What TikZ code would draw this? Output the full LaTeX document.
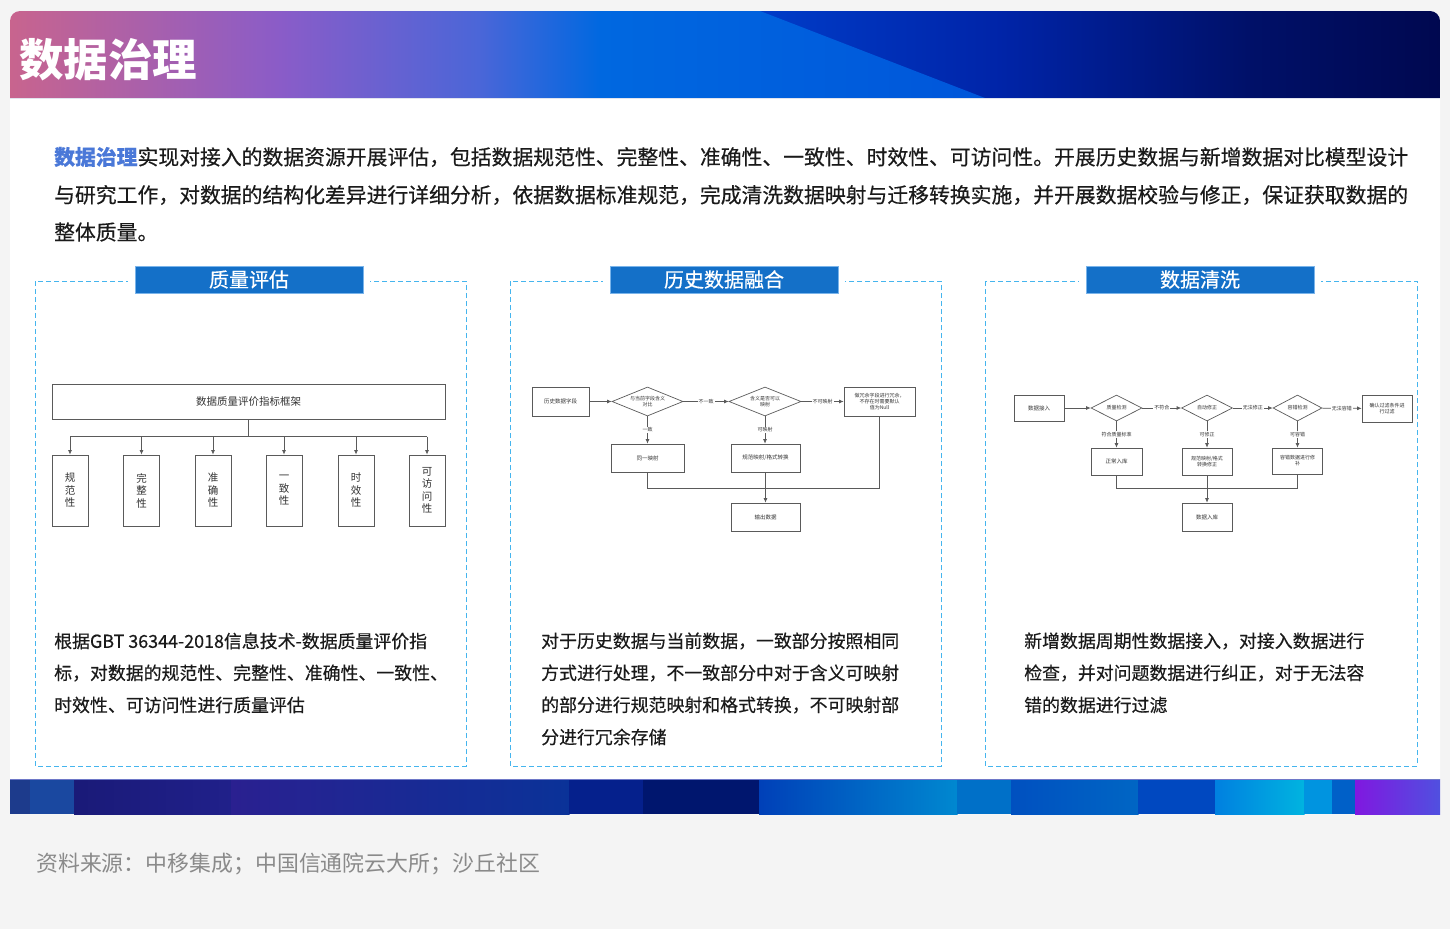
\documentclass[tikz,border=0pt]{standalone}
\usepackage{fontspec}
\setmainfont{Noto Sans CJK SC}
\newfontfamily\medfont[FakeBold=0.4]{Noto Sans CJK SC}
\usetikzlibrary{shapes.geometric,arrows.meta}
\definecolor{bggray}{HTML}{F4F4F4}
\definecolor{boxline}{HTML}{5A5A5A}
\definecolor{fctext}{HTML}{333333}
\definecolor{dashblue}{HTML}{45B5EE}
\definecolor{tabblue}{HTML}{1470C8}
\definecolor{tabedge}{HTML}{7AB4EA}
\definecolor{hiblue}{HTML}{4A78D8}
\definecolor{bodytext}{HTML}{1A1A1A}
\definecolor{srcgray}{HTML}{8A8A8A}
\tikzset{
  fbox/.style={draw=boxline, line width=0.7pt, fill=white, inner sep=1pt, align=center,
    font=\fontsize{5.5}{6.5}\selectfont, text=fctext},
  vbox/.style={draw=boxline, line width=0.8pt, fill=white, inner sep=0pt, align=center,
    minimum width=36pt, minimum height=71pt, font=\fontsize{10.5}{12.5}\selectfont, text=fctext},
  fdia/.style={diamond, draw=boxline, line width=0.7pt, fill=white, inner sep=0pt},
  dtext/.style={align=center, inner sep=0pt, font=\fontsize{5}{6}\selectfont, text=fctext},
  conn/.style={draw=boxline, line width=0.7pt},
  arr/.style={conn, -{Latex[length=4.5pt,width=4pt]}},
  elab/.style={fill=white, inner sep=1pt, font=\fontsize{5}{6}\selectfont, text=fctext},
  panel/.style={draw=dashblue, line width=1pt, dash pattern=on 5pt off 3pt},
  tabbox/.style={fill=tabblue, draw=tabedge, line width=0.6pt, minimum width=228pt,
    minimum height=27pt, inner sep=0pt, text=white, font=\medfont\fontsize{20}{22}\selectfont},
  ptext/.style={anchor=west, inner sep=0pt, text=bodytext, font=\medfont\fontsize{20.83}{24}\selectfont},
  ctext/.style={anchor=west, inner sep=0pt, text=bodytext, font=\medfont\fontsize{17.9}{20}\selectfont},
}
\begin{document}
\begin{tikzpicture}[x=1pt,y=-1pt]
\useasboundingbox (0,0) rectangle (1450,929);
\fill[bggray] (0,0) rectangle (1450,929);
% white card
\fill[white, rounded corners=10pt] (10,11) rectangle (1440,814);
% header gradient
\begin{scope}
\clip[rounded corners=10pt] (10,11) rectangle (1440,140);
\shade[left color={rgb,255:red,200;green,100;blue,142}, right color={rgb,255:red,138;green,92;blue,200}] (10,11) rectangle (281,98);
\shade[left color={rgb,255:red,138;green,92;blue,200}, right color={rgb,255:red,74;green,102;blue,216}] (280,11) rectangle (481,98);
\shade[left color={rgb,255:red,74;green,102;blue,216}, right color={rgb,255:red,0;green,104;blue,224}] (480,11) rectangle (601,98);
\shade[left color={rgb,255:red,0;green,66;blue,208}, right color={rgb,255:red,0;green,36;blue,168}] (700,11) rectangle (1001,98);
\shade[left color={rgb,255:red,0;green,36;blue,168}, right color={rgb,255:red,0;green,16;blue,104}] (1000,11) rectangle (1251,98);
\shade[left color={rgb,255:red,0;green,16;blue,104}, right color={rgb,255:red,0;green,8;blue,80}] (1250,11) rectangle (1440,98);
\shade[left color={rgb,255:red,0;green,104;blue,224}, right color={rgb,255:red,0;green,86;blue,218}] (600,11) -- (760,11) -- (985,98) -- (600,98) -- cycle;
\end{scope}
\draw[line width=1pt, color={rgb,255:red,225;green,228;blue,238}] (10,98.5) -- (1440,98.5);
\node[anchor=west, inner sep=0pt, text=white, font=\fontsize{44.5}{46}\selectfont\bfseries] (title) at (19,60) {数据治理};
% intro paragraph
\node[ptext] (p1) at (54,157) {\textcolor{hiblue}{\bfseries 数据治理}实现对接入的数据资源开展评估，包括数据规范性、完整性、准确性、一致性、时效性、可访问性。开展历史数据与新增数据对比模型设计};
\node[ptext] (p2) at (54,195) {与研究工作，对数据的结构化差异进行详细分析，依据数据标准规范，完成清洗数据映射与迁移转换实施，并开展数据校验与修正，保证获取数据的};
\node[ptext] (p3) at (54,232) {整体质量。};
% panels
\draw[panel] (35,281) rectangle (466,766);
\draw[panel] (510,281) rectangle (941,766);
\draw[panel] (985,281) rectangle (1417,766);
\fill[white] (128,264) rectangle (370,296);
\fill[white] (603,264) rectangle (845,296);
\fill[white] (1079,264) rectangle (1321,296);
\node[tabbox] (t1) at (249,279.5) {质量评估};
\node[tabbox] (t2) at (724,279.5) {历史数据融合};
\node[tabbox] (t3) at (1200,279.5) {数据清洗};
% ---------- left flowchart
\node[draw=boxline, line width=0.8pt, fill=white, minimum width=393pt, minimum height=35pt, inner sep=0pt,
  font=\fontsize{10.5}{12}\selectfont, text=fctext] (qtop) at (248.5,401.5) {数据质量评价指标框架};
\node[vbox] (q1) at (70,490.5) {规\\范\\性};
\node[vbox] (q2) at (141.5,490.5) {完\\整\\性};
\node[vbox] (q3) at (213,490.5) {准\\确\\性};
\node[vbox] (q4) at (284,490.5) {一\\致\\性};
\node[vbox] (q5) at (356,490.5) {时\\效\\性};
\node[vbox] (q6) at (427,490.5) {可\\访\\问\\性};
\coordinate (qj) at (248.5,436.5);
\draw[conn, line width=0.8pt] (qtop.south) -- (qj);
\draw[conn, line width=0.8pt] (q1 |- qj) -- (q6 |- qj);
\foreach \q in {q1,q2,q3,q4,q5,q6}{
  \draw[arr, line width=0.8pt] (\q |- qj) -- (\q.north);
}
% ---------- middle flowchart
\node[fbox, minimum width=57pt, minimum height=29pt] (m1) at (560.5,401.5) {历史数据字段};
\node[fdia, minimum width=71pt, minimum height=29pt, label={[dtext]center:{与当前字段含义\\对比}}] (md1) at (647.5,401.5) {};
\node[fdia, minimum width=72pt, minimum height=29pt, label={[dtext]center:{含义是否可以\\映射}}] (md2) at (765,401.5) {};
\node[fbox, minimum width=71pt, minimum height=29pt, font=\fontsize{5}{6}\selectfont] (m3) at (879.5,401.5) {做冗余字段进行冗余，\\不存在时需要默认\\值为Null};
\node[fbox, minimum width=73pt, minimum height=28pt] (ma) at (647.5,458) {同一映射};
\node[fbox, minimum width=69pt, minimum height=28pt] (mb) at (765.5,458) {规范映射/格式转换};
\node[fbox, minimum width=69pt, minimum height=28pt] (mo) at (765.5,517) {输出数据};
\draw[arr] (m1) -- (md1);
\draw[arr] (md1) -- node[elab]{不一致} (md2);
\draw[arr] (md2) -- node[elab]{不可映射} (m3);
\draw[arr] (md1) -- node[elab]{一致} (ma);
\draw[arr] (md2) -- node[elab]{可映射} (mb.north -| md2);
\coordinate (mj) at (765.5,488);
\draw[conn] (ma.south) |- (mj);
\draw[conn] (m3.south) |- (mj);
\draw[arr] (mb) -- (mo);
% ---------- right flowchart
\node[fbox, minimum width=50pt, minimum height=26pt] (r1) at (1039,408) {数据接入};
\node[fdia, minimum width=51pt, minimum height=26pt, label={[dtext]center:{质量检测}}] (rd1) at (1116.5,408) {};
\node[fdia, minimum width=51pt, minimum height=26pt, label={[dtext]center:{自动修正}}] (rd2) at (1207,408) {};
\node[fdia, minimum width=49pt, minimum height=26pt, label={[dtext]center:{容错检测}}] (rd3) at (1297.5,408) {};
\node[fbox, minimum width=50pt, minimum height=27pt, font=\fontsize{5}{6}\selectfont] (r5) at (1387,408.5) {确认过滤条件进\\行过滤};
\node[fbox, minimum width=51pt, minimum height=27pt] (ra) at (1116.5,461.5) {正常入库};
\node[fbox, minimum width=50pt, minimum height=27pt, font=\fontsize{5}{6}\selectfont] (rb) at (1207,461.5) {规范映射/格式\\转换修正};
\node[fbox, minimum width=50pt, minimum height=26pt, font=\fontsize{5}{6}\selectfont] (rc) at (1297.5,461) {容错数据进行修\\补};
\node[fbox, minimum width=50pt, minimum height=28pt] (ro) at (1207,517) {数据入库};
\draw[arr] (r1) -- (rd1);
\draw[arr] (rd1) -- node[elab]{不符合} (rd2);
\draw[arr] (rd2) -- node[elab]{无法修正} (rd3);
\draw[arr] (rd3) -- node[elab]{无法容错} (r5);
\draw[arr] (rd1) -- node[elab]{符合质量标准} (ra);
\draw[arr] (rd2) -- node[elab]{可修正} (rb);
\draw[arr] (rd3) -- node[elab]{可容错} (rc);
\coordinate (rj) at (1207,488);
\draw[conn] (ra.south) |- (rj);
\draw[conn] (rc.south) |- (rj);
\draw[arr] (rb) -- (ro);
% ---------- panel texts
\node[ctext] (c11) at (54,641) {根据GBT 36344-2018信息技术-数据质量评价指};
\node[ctext] (c12) at (54,673) {标，对数据的规范性、完整性、准确性、一致性、};
\node[ctext] (c13) at (54,705) {时效性、可访问性进行质量评估};
\node[ctext] (c21) at (541,641) {对于历史数据与当前数据，一致部分按照相同};
\node[ctext] (c22) at (541,673) {方式进行处理，不一致部分中对于含义可映射};
\node[ctext] (c23) at (541,705) {的部分进行规范映射和格式转换，不可映射部};
\node[ctext] (c24) at (541,737) {分进行冗余存储};
\node[ctext] (c31) at (1024,641) {新增数据周期性数据接入，对接入数据进行};
\node[ctext] (c32) at (1024,673) {检查，并对问题数据进行纠正，对于无法容};
\node[ctext] (c33) at (1024,705) {错的数据进行过滤};
% ---------- bottom banner
\fill[color={rgb,255:red,29;green,59;blue,140}] (10,779) rectangle (30.5,814);
\fill[color={rgb,255:red,26;green,72;blue,160}] (30,779) rectangle (74.5,814);
\shade[left color={rgb,255:red,26;green,26;blue,120}, right color={rgb,255:red,32;green,32;blue,138}] (74,779) rectangle (231.5,814);
\shade[left color={rgb,255:red,42;green,32;blue,144}, right color={rgb,255:red,10;green,50;blue,152}] (231,779) rectangle (569.5,814);
\fill[color={rgb,255:red,5;green,32;blue,140}] (569,779) rectangle (643.5,814);
\fill[color={rgb,255:red,0;green,22;blue,110}] (643,779) rectangle (759.5,814);
\shade[left color={rgb,255:red,0;green,64;blue,184}, right color={rgb,255:red,0;green,136;blue,208}] (759,779) rectangle (957.5,814);
\fill[color={rgb,255:red,0;green,112;blue,200}] (957,779) rectangle (1011.5,814);
\shade[left color={rgb,255:red,0;green,80;blue,192}, right color={rgb,255:red,0;green,102;blue,196}] (1011,779) rectangle (1138.5,814);
\fill[color={rgb,255:red,0;green,72;blue,192}] (1138,779) rectangle (1215.5,814);
\shade[left color={rgb,255:red,0;green,128;blue,224}, right color={rgb,255:red,0;green,180;blue,224}] (1215,779) rectangle (1304.5,814);
\fill[color={rgb,255:red,0;green,148;blue,224}] (1304,779) rectangle (1332.5,814);
\fill[color={rgb,255:red,0;green,96;blue,200}] (1332,779) rectangle (1355.5,814);
\shade[left color={rgb,255:red,128;green,24;blue,224}, right color={rgb,255:red,80;green,80;blue,224}] (1355,779) rectangle (1440,814);
\draw[line width=0.8pt, color={rgb,255:red,110;green,120;blue,200}] (10,779.4) -- (1440,779.4);
% source
\node[anchor=west, inner sep=0pt, text=srcgray, font=\fontsize{21.9}{23}\selectfont] (src) at (36,864) {资料来源：中移集成；中国信通院云大所；沙丘社区};
\end{tikzpicture}
\end{document}
